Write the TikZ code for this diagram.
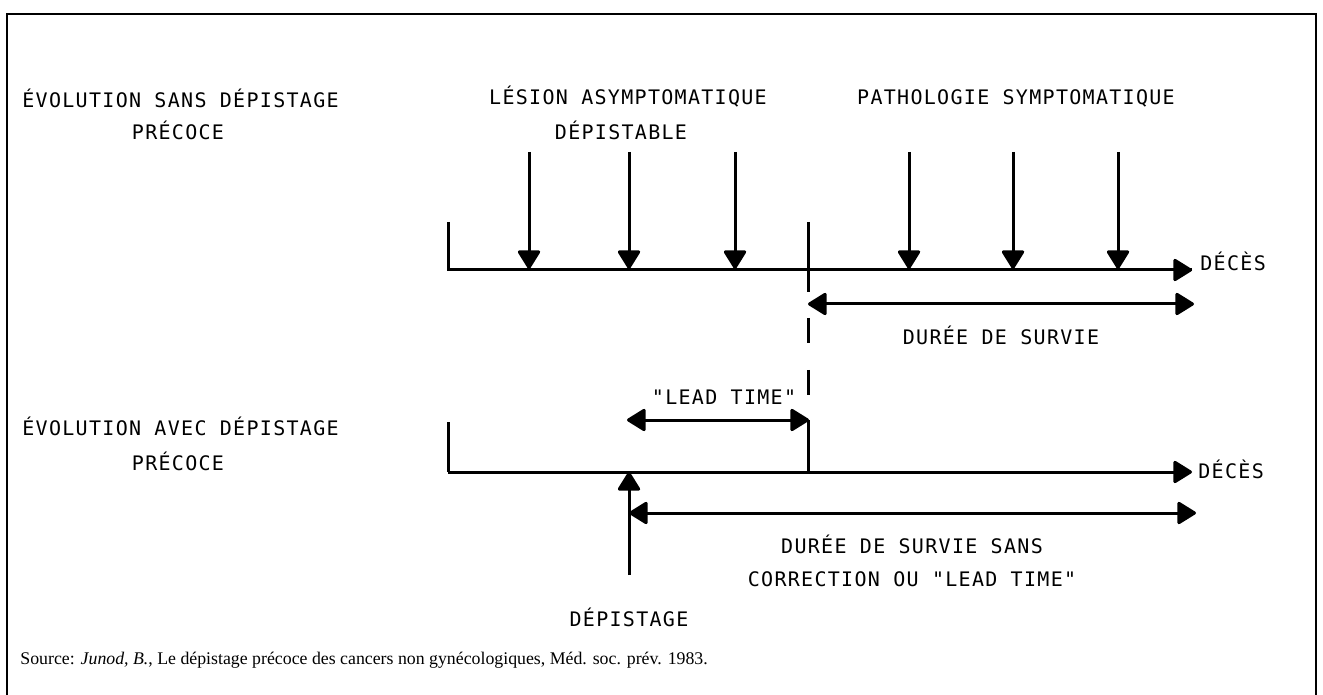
\documentclass[tikz,border=0pt]{standalone}
\usepackage{fontspec}
\setmainfont{Liberation Serif}
\newfontfamily\plotfont[LetterSpace=6.5]{DejaVu Sans Mono}
\usetikzlibrary{arrows.meta}

\tikzset{
	trait/.style={line width=1.5pt},
	fleche/.style={trait,-{Triangle[length=10pt,width=12pt,round]}},
	double fleche/.style={trait,{Triangle[length=10pt,width=12pt,round]}-{Triangle[length=10pt,width=12pt,round]}},
	etiquette/.style={font=\plotfont\fontsize{10}{12}\selectfont,inner sep=0pt,anchor=base},
}

\begin{document}
\begin{tikzpicture}[x=0.5pt,y=-0.5pt]
			\useasboundingbox (0,0) rectangle (1323,695);
			% cadre
			\draw [line width=1pt] (7,695) -- (7,14) -- (1316,14) -- (1316,695);
			% sans depistage
			\node [etiquette,anchor=base west] (sans1) at (22,108) {ÉVOLUTION SANS DÉPISTAGE};
			\node [etiquette] (sans2) at (178,140) {PRÉCOCE};
			\node [etiquette] (lesion1) at (628,105) {LÉSION ASYMPTOMATIQUE};
			\node [etiquette] (lesion2) at (621,140) {DÉPISTABLE};
			\node [etiquette] (patho) at (1016,105) {PATHOLOGIE SYMPTOMATIQUE};
			\coordinate (a0) at (448,222);
			\coordinate (a1) at (448,270);
			\coordinate (a2) at (1192,270);
			\coordinate (c0) at (808,222);
			\coordinate (c1) at (808,270);
			\coordinate (c2) at (808,292);
			\coordinate (c3) at (808,420);
			\draw [trait] (a0) -- (a1) -- (a2);
			\draw [fleche] (a1) -- (a2);
			\draw [trait] (c0) -- (c2);
			\draw [trait,dash pattern=on 12.5pt off 13.5pt] (c2) ++(0,26) -- (c3);
			\foreach \x in {529,629,735,909,1013,1118}
				\draw [fleche] (\x,152) -- (\x,269);
			\node [etiquette,anchor=base west] (deces1) at (1200,271) {DÉCÈS};
			\coordinate (s0) at (808,304);
			\coordinate (s1) at (1194,304);
			\draw [double fleche] (s0) -- (s1);
			\node [etiquette] (survie) at (1001,344) {DURÉE DE SURVIE};
			% avec depistage
			\node [etiquette] (lead) at (724,404) {"LEAD TIME"};
			\coordinate (l0) at (627,420);
			\coordinate (l1) at (809,420);
			\draw [double fleche] (l0) -- (l1);
			\node [etiquette,anchor=base west] (avec1) at (22,436) {ÉVOLUTION AVEC DÉPISTAGE};
			\node [etiquette] (avec2) at (178,470) {PRÉCOCE};
			\coordinate (b0) at (448,422);
			\coordinate (b1) at (448,472);
			\coordinate (b2) at (1192,472);
			\draw [trait] (b0) -- (b1);
			\draw [fleche] (b1) -- (b2);
			\draw [trait] (c3) -- (808,472);
			\node [etiquette,anchor=base west] (deces2) at (1198,478) {DÉCÈS};
			\coordinate (d0) at (629,575);
			\coordinate (d1) at (629,472);
			\draw [fleche] (d0) -- (d1);
			\node [etiquette] (depist) at (629,626) {DÉPISTAGE};
			\coordinate (e0) at (629,513);
			\coordinate (e1) at (1196,513);
			\draw [double fleche] (e0) -- (e1);
			\node [etiquette] (corr1) at (912,553) {DURÉE DE SURVIE SANS};
			\node [etiquette] (corr2) at (912,586) {CORRECTION OU "LEAD TIME"};
			% source
			\node [font=\fontsize{8.9}{11}\selectfont,inner sep=0pt,anchor=base west] (source) at (20,664)
				{Source: \textit{Junod, B.}, Le dépistage précoce des cancers non gynécologiques, Méd. soc. prév. 1983.};
			\end{tikzpicture}
\end{document}
